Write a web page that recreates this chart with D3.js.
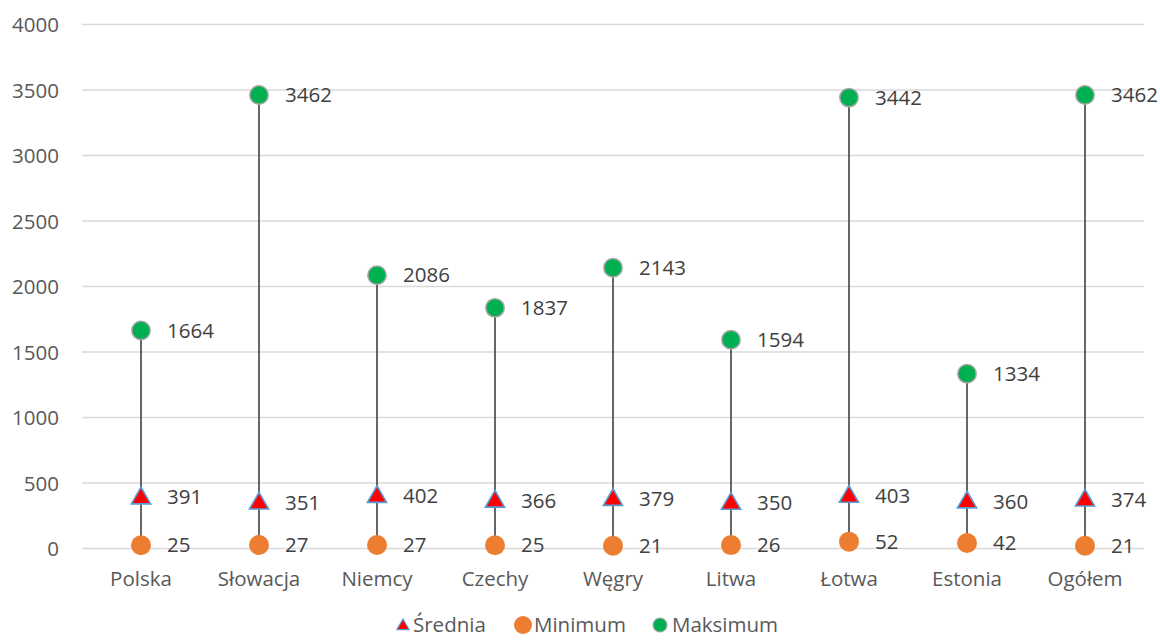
<!DOCTYPE html>
<html>
<head>
<meta charset="utf-8">
<script src="https://cdn.jsdelivr.net/npm/d3@7"></script>
<style>
  html, body { margin: 0; padding: 0; background: #fff; }
  svg { display: block; font-family: "Open Sans", sans-serif; }
</style>
</head>
<body>
<svg id="chart" width="1160" height="640"></svg>
<script>
const categories = ["Polska", "Słowacja", "Niemcy", "Czechy", "Węgry", "Litwa", "Łotwa", "Estonia", "Ogółem"];
const srednia = [391, 351, 402, 366, 379, 350, 403, 360, 374];
const minimum = [25, 27, 27, 25, 21, 26, 52, 42, 21];
const maksimum = [1664, 3462, 2086, 1837, 2143, 1594, 3442, 1334, 3462];
const yTicks = [0, 500, 1000, 1500, 2000, 2500, 3000, 3500, 4000];
const legendLabels = ["Średnia", "Minimum", "Maksimum"];

const FS = 20.5;
const svg = d3.select("#chart");
const x = d3.scaleBand().domain(categories).range([82, 1144]);
const y = d3.scaleLinear().domain([0, 4000]).range([548.5, 24.5]);
const cx = c => x(c) + x.bandwidth() / 2;

// gridlines
svg.append("g").selectAll("line").data(yTicks).join("line")
  .attr("x1", 82).attr("x2", 1144)
  .attr("y1", d => y(d)).attr("y2", d => y(d))
  .attr("stroke", "#d9d9d9").attr("stroke-width", 1.3);

// y axis labels
const yAxis = d3.axisLeft(y).tickValues(yTicks).tickSize(0).tickPadding(0).tickFormat(d3.format("d"));
const ya = svg.append("g").attr("transform", "translate(59,0)").call(yAxis);
ya.select(".domain").remove();
ya.selectAll("text").attr("font-family", "Open Sans").attr("font-size", FS).attr("fill", "#595959").attr("dy", "0.35em");

// x axis labels
const xAxis = d3.axisBottom(x).tickSize(0).tickPadding(0);
const xa = svg.append("g").attr("transform", "translate(0,570)").call(xAxis);
xa.select(".domain").remove();
xa.selectAll("text").attr("font-family", "Open Sans").attr("font-size", FS).attr("fill", "#595959").attr("dy", "0.35em").attr("y", 9);

const rows = categories.map((c, i) => ({ c, avg: srednia[i], min: minimum[i], max: maksimum[i] }));

// stems
svg.append("g").selectAll("line").data(rows).join("line")
  .attr("x1", d => cx(d.c)).attr("x2", d => cx(d.c))
  .attr("y1", d => y(d.min)).attr("y2", d => y(d.max))
  .attr("stroke", "#404040").attr("stroke-width", 1.6);

const tri = d3.symbol().type(d3.symbolTriangle);

// minimum
svg.append("g").selectAll("circle").data(rows).join("circle")
  .attr("cx", d => cx(d.c)).attr("cy", d => y(d.min)).attr("r", 10)
  .attr("fill", "#ed7d31");
// average
svg.append("g").selectAll("path").data(rows).join("path")
  .attr("d", tri.size(160)())
  .attr("transform", d => `translate(${cx(d.c)},${y(d.avg) + 1})`)
  .attr("fill", "#ff0000").attr("stroke", "#5b9bd5").attr("stroke-width", 1.6);
// maximum
svg.append("g").selectAll("circle").data(rows).join("circle")
  .attr("cx", d => cx(d.c)).attr("cy", d => y(d.max)).attr("r", 9.2)
  .attr("fill", "#00b050").attr("stroke", "#a5a5a5").attr("stroke-width", 1.5);

// data labels
const labelG = svg.append("g").attr("font-size", FS).attr("fill", "#404040");
["min", "avg", "max"].forEach(k => {
  labelG.append("g").selectAll("text").data(rows).join("text")
    .attr("x", d => cx(d.c) + 26).attr("y", d => y(d[k]))
    .attr("dy", "0.35em")
    .text(d => d[k]);
});

// legend
const lg = svg.append("g").attr("font-size", FS).attr("fill", "#595959");
const ly = 625;
lg.append("path").attr("d", tri.size(65)()).attr("transform", `translate(403,${ly + 1})`)
  .attr("fill", "#ff0000").attr("stroke", "#5b9bd5").attr("stroke-width", 1.2);
lg.append("circle").attr("cx", 523).attr("cy", ly).attr("r", 9).attr("fill", "#ed7d31");
lg.append("circle").attr("cx", 660).attr("cy", ly).attr("r", 7).attr("fill", "#00b050").attr("stroke", "#a5a5a5").attr("stroke-width", 1.2);
const lx = [413, 534, 672];
legendLabels.forEach((t, i) => {
  lg.append("text").attr("x", lx[i]).attr("y", ly).attr("dy", "0.35em").text(t);
});
</script>
</body>
</html>
